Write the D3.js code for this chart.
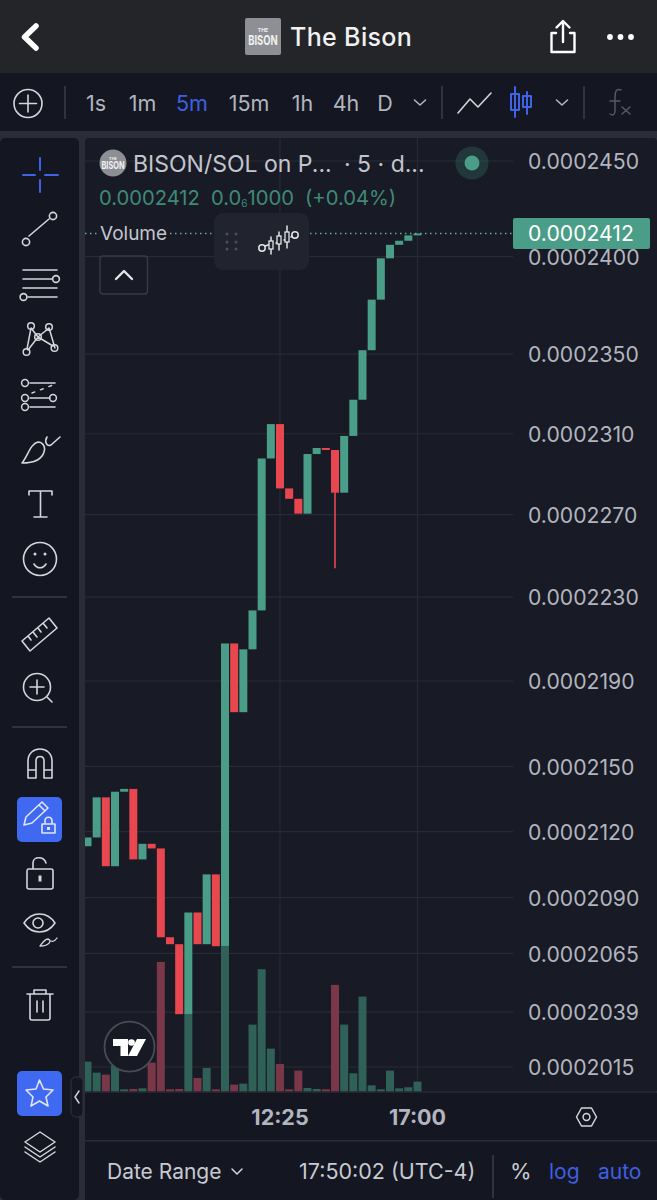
<!DOCTYPE html>
<html>
<head>
<meta charset="utf-8">
<script src="https://cdn.jsdelivr.net/npm/d3@7"></script>
<style>
  html, body { margin: 0; padding: 0; background: #181a25; }
  svg { display: block; }
  text { font-family: Inter, "Noto Sans", sans-serif; }
</style>
</head>
<body>
<div id="chart"></div>
<script>
// prices are in units of 1e-7 SOL
const opens = [2113.3, 2117.3, 2135.7, 2104.2, 2138.3, 2139.6, 2107.3, 2114.4, 2112.3, 2072.2, 2069.1, 2038.1, 2083.3,
    2069.1, 2100.5, 2068.2, 2207.8, 2175.3, 2205.0, 2223.6, 2297.7, 2314.8, 2282.9, 2277.8, 2270.5, 2299.9, 2302.9,
    2301.9, 2280.8, 2308.9, 2327.0, 2352.0, 2377.8, 2399.1, 2406.1, 2408.2, 2411.0];
const closes = [2117.3, 2135.7, 2104.2, 2138.3, 2139.6, 2107.3, 2114.4, 2112.3, 2072.2, 2069.1, 2038.1, 2083.3, 2069.1,
    2100.5, 2068.2, 2207.8, 2175.3, 2205.0, 2223.6, 2297.7, 2314.8, 2282.9, 2277.8, 2270.5, 2299.9, 2302.9, 2301.9,
    2280.8, 2308.9, 2327.0, 2352.0, 2377.8, 2399.1, 2406.1, 2408.2, 2411.0, 2412.0];
// only one candle has a visible wick
const wicks = [{ index: 27, low: 2243.9 }];
const volumes = [89, 56, 50, 78, 6, 7, 9, 86, 388, 6, 7, 232, 40, 70, 6, 436, 20, 23, 200, 366, 128, 82, 6, 62, 10, 7, 6,
    319, 200, 54, 284, 18, 6, 62, 9, 12, 29];
const priceTicks = [2450, 2400, 2350, 2310, 2270, 2230, 2190, 2150, 2120, 2090, 2065, 2039, 2015];
const timeTicks = [{ index: 21, label: "12:25" }, { index: 36, label: "17:00" }];
const lastPrice = 2412;
const intervals = ["1s", "1m", "5m", "15m", "1h", "4h", "D"];
const intervalX = [96, 142.5, 192, 249, 302.5, 346, 385];

const width = 657, height = 1200;
const GREEN = "#4a9e88", RED = "#e9474f", BLUE = "#3f5fe0", GRID = "#282a35", LABEL = "#b2b5be", ICON = "#d4d6dc";

const svg = d3.select("#chart").append("svg")
    .attr("width", width).attr("height", height).attr("viewBox", `0 0 ${width} ${height}`);

// panels
svg.append("rect").attr("width", width).attr("height", height).attr("fill", "#2a2c37");
svg.append("rect").attr("width", width).attr("height", 73).attr("fill", "#242528");
svg.append("rect").attr("y", 73).attr("width", width).attr("height", 58).attr("fill", "#141722");
svg.append("rect").attr("y", 138).attr("width", 79).attr("height", 1062).attr("rx", 5).attr("fill", "#141722");
svg.append("rect").attr("x", 85).attr("y", 138).attr("width", 572).attr("height", 955).attr("rx", 4).attr("fill", "#181a25");
svg.append("rect").attr("x", 85).attr("y", 1093).attr("width", 572).attr("height", 107).attr("fill", "#141722");
svg.append("rect").attr("x", 85).attr("y", 1140).attr("width", 572).attr("height", 1.5).attr("fill", "#2a2c37");

// scales
const x = d3.scaleLinear().domain([0, opens.length - 1]).range([87.5, 417.5]);
const y = d3.scaleLog().domain([2015, 2450]).range([1067, 161]);
const yVol = d3.scaleLinear().domain([0, d3.max(volumes)]).range([1091.3, 945.9]);
const bodyW = 8;

const plot = svg.append("g");
svg.append("clipPath").attr("id", "plotClip").append("rect")
    .attr("x", 85).attr("y", 138).attr("width", 428).attr("height", 955);

// grid
plot.selectAll(".hgrid").data(priceTicks).enter().append("line")
    .attr("class", "hgrid")
    .attr("x1", 85).attr("x2", 513)
    .attr("y1", d => y(d)).attr("y2", d => y(d))
    .attr("stroke", GRID).attr("stroke-width", 1.2);
plot.selectAll(".vgrid").data(timeTicks).enter().append("line")
    .attr("class", "vgrid")
    .attr("x1", d => x(d.index)).attr("x2", d => x(d.index))
    .attr("y1", 138).attr("y2", 1091)
    .attr("stroke", GRID).attr("stroke-width", 1.2);
plot.append("line").attr("x1", 85).attr("x2", 657).attr("y1", 1092).attr("y2", 1092)
    .attr("stroke", "#2d2f3a").attr("stroke-width", 1.2);

// candles then volume on top
const marks = plot.append("g").attr("clip-path", "url(#plotClip)");
const isUp = i => closes[i] >= opens[i];

marks.selectAll(".wick").data(wicks).enter().append("line")
    .attr("class", "wick")
    .attr("x1", d => x(d.index)).attr("x2", d => x(d.index))
    .attr("y1", d => y(opens[d.index])).attr("y2", d => y(d.low))
    .attr("stroke", RED).attr("stroke-width", 1.6);

marks.selectAll(".body").data(d3.range(opens.length)).enter().append("rect")
    .attr("class", "body")
    .attr("x", i => x(i) - bodyW / 2)
    .attr("y", i => y(Math.max(opens[i], closes[i])))
    .attr("width", bodyW)
    .attr("height", i => Math.abs(y(opens[i]) - y(closes[i])))
    .attr("fill", i => isUp(i) ? GREEN : RED);

marks.selectAll(".vol").data(volumes).enter().append("rect")
    .attr("class", "vol")
    .attr("x", (d, i) => x(i) - bodyW / 2)
    .attr("y", d => yVol(d))
    .attr("width", bodyW)
    .attr("height", d => yVol(0) - yVol(d))
    .attr("fill", (d, i) => isUp(i) ? "#31655b" : "#80394a")
    .attr("fill-opacity", 0.95);

// last price line + axis labels
plot.append("line").attr("x1", 85).attr("x2", 513)
    .attr("y1", y(lastPrice)).attr("y2", y(lastPrice))
    .attr("stroke", "#5fae98").attr("stroke-width", 1.4).attr("stroke-dasharray", "1.5 3.5");

const yAxis = d3.axisRight(y).tickValues(priceTicks).tickSize(0).tickPadding(0)
    .tickFormat(d => (d / 1e7).toFixed(7));
const axisG = svg.append("g").attr("transform", "translate(528,0)").call(yAxis);
axisG.select(".domain").remove();
axisG.selectAll("text").attr("fill", LABEL).attr("font-size", 21.2).attr("font-family", "Inter").attr("dy", "0.36em");

svg.append("rect").attr("x", 513).attr("y", 218).attr("width", 137).attr("height", 31).attr("rx", 2).attr("fill", GREEN);
svg.append("text").attr("x", 528).attr("y", y(lastPrice)).attr("dy", "0.36em")
    .attr("font-size", 21.2).attr("fill", "#fff").text((lastPrice / 1e7).toFixed(7));

// time axis
svg.selectAll(".tlabel").data(timeTicks).enter().append("text")
    .attr("class", "tlabel")
    .attr("x", d => x(d.index)).attr("y", 1125)
    .attr("text-anchor", "middle").attr("font-size", 21.5).attr("font-weight", 700)
    .attr("fill", LABEL).text(d => d.label);

// icon helper
function icon(d, color, sw, fill) {
    return svg.append("path").attr("d", d).attr("fill", fill || "none")
        .attr("stroke", color || ICON).attr("stroke-width", sw || 1.8)
        .attr("stroke-linecap", "round").attr("stroke-linejoin", "round");
}
function ring(cx, cy, r, color, sw) {
    return svg.append("circle").attr("cx", cx).attr("cy", cy).attr("r", r).attr("fill", "none")
        .attr("stroke", color || ICON).attr("stroke-width", sw || 1.8);
}
function label(tx, ty, str, size, color, anchor, weight) {
    return svg.append("text").attr("x", tx).attr("y", ty).attr("font-size", size).attr("fill", color)
        .attr("text-anchor", anchor || "start").attr("font-weight", weight || 400).text(str);
}
function logo(parent, lx, ly, w, h, rx) {
    parent.append("rect").attr("x", lx).attr("y", ly).attr("width", w).attr("height", h).attr("rx", rx).attr("fill", "#8e8f94");
    parent.append("text").attr("x", lx + w / 2).attr("y", ly + h * 0.38).attr("text-anchor", "middle")
        .attr("font-size", h * 0.14).attr("font-weight", 700).attr("fill", "#eee").text("THE");
    parent.append("text").attr("x", lx + w / 2).attr("y", ly + h * 0.72).attr("text-anchor", "middle")
        .attr("font-size", h * 0.36).attr("font-weight", 700).attr("textLength", w * 0.82).attr("lengthAdjust", "spacingAndGlyphs")
        .attr("fill", "#f2f2f2").text("BISON");
}

// header
icon("M36 26 L24.5 37 L36 48", "#fff", 5.5);
logo(svg, 245, 18, 36, 37, 2);
label(290, 46, "The Bison", 25, "#f1f1f1", "start", 500).attr("letter-spacing", 0.35);
icon("M556 33 H551.5 V52 H574.5 V33 H570 M563 42 V22 M556.5 27.5 L563 21 L569.5 27.5", "#fff", 2.4);
[610, 620.5, 631].forEach(cx => svg.append("circle").attr("cx", cx).attr("cy", 37).attr("r", 2.9).attr("fill", "#fff"));

// interval toolbar
ring(28, 103.5, 14, ICON, 1.6);
icon("M28 95 V112 M19.5 103.5 H36.5", ICON, 1.6);
[65, 442, 584].forEach(sx => svg.append("line").attr("x1", sx).attr("x2", sx).attr("y1", 86).attr("y2", 119)
    .attr("stroke", "#3a3c47").attr("stroke-width", 1.5));
svg.selectAll(".interval").data(intervals).enter().append("text")
    .attr("class", "interval")
    .attr("x", (d, i) => intervalX[i]).attr("y", 111)
    .attr("text-anchor", "middle").attr("font-size", 21.5)
    .attr("fill", d => d === "5m" ? BLUE : LABEL).text(d => d);
icon("M414.5 100 L420 105 L425.5 100", LABEL, 1.6);
icon("M458 113 L470 99 L478 107 L491 93", ICON, 1.6);
icon("M515 87 V117 M511 94 H519 V110 H511 Z M527 92 V114 M523 96 H531 V107 H523 Z", "#3f62e6", 2);
icon("M556.5 100 L562 105 L567.5 100", LABEL, 1.6);
icon("M621 90 C616 88 615 92 615 97 V110 C615 115 613 116 610 114 M610 101 H620", "#565964", 1.5);
icon("M622 107 L630 114 M630 107 L622 114", "#565964", 1.5);

// left toolbar
icon("M40 158 V170 M40 180 V192 M23 175 H35 M45 175 H58", "#3f62e6", 2);
icon("M29 236 L49 219", ICON, 1.6); ring(26, 242, 3.6, ICON, 1.6); ring(53, 216, 3.6, ICON, 1.6);
icon("M23 270 H57 M23 279 H52 M23 288 H57 M28 297 H57", ICON, 1.6); ring(56, 279, 3.4, ICON, 1.6); ring(23.5, 297, 3.4, ICON, 1.6);
icon("M31 328 L27 349 M31 328 L38 337 M38 337 L49 328 M49 328 L55 348 M38 337 L28 350 M38 337 L53 346", ICON, 1.5);
[[31, 326], [49, 327], [38, 337], [26.5, 352], [54.5, 348]].forEach(c => ring(c[0], c[1], 3.3, ICON, 1.5));
icon("M30 383 H55 M30 398 H50 M30 407 H55", ICON, 1.6);
icon("M32 393 L53 385", ICON, 1.4).attr("stroke-dasharray", "3 6");
ring(25, 383, 3.4, ICON, 1.5); ring(25, 398, 3.4, ICON, 1.5); ring(25, 407, 3.4, ICON, 1.5); ring(53, 398, 3.4, ICON, 1.5);
icon("M22 463 C28 456 30 444 38 442 C42 442 46 446 44 452 C42 459 34 463 22 463 Z", ICON, 1.6);
icon("M47 437 C44 442 47 447 51 445 L60 437", ICON, 1.6);
icon("M29 495 V491 H52 V495 M40.5 491 V517 M34 517 H47", ICON, 1.6);
ring(40, 559, 16.5, ICON, 1.6);
icon("M34 564 C37 569 43 569 46 564", ICON, 1.6);
svg.append("circle").attr("cx", 35).attr("cy", 554).attr("r", 1.5).attr("fill", ICON);
svg.append("circle").attr("cx", 45).attr("cy", 554).attr("r", 1.5).attr("fill", ICON);
[597, 727, 967].forEach(sy => svg.append("line").attr("x1", 12).attr("x2", 67).attr("y1", sy).attr("y2", sy)
    .attr("stroke", "#3a3c47").attr("stroke-width", 1.4));
icon("M22 641 L49 618 L57 628 L30 651 Z M28 636 L31 640 M33 632 L37 637 M38 628 L41 632 M43 623 L47 628", ICON, 1.6);
ring(37, 687, 13.5, ICON, 1.6);
icon("M37 680 V694 M30 687 H44 M47 697 L52 702", ICON, 1.6);
icon("M28 778 V761 C28 745 52 745 52 761 V778 H44 V761 C44 755 36 755 36 761 V778 Z M28 770 H36 M44 770 H52", ICON, 1.6);
svg.append("rect").attr("x", 17).attr("y", 797).attr("width", 45).attr("height", 45).attr("rx", 5).attr("fill", "#3f69f0");
icon("M24 825 L26 817 L42 802 L48 808 L32 823 Z M39 805 L45 811", "#dfe5f7", 1.6);
icon("M42 833 V824 H55 V833 Z M45 824 V821 C45 816 52 816 52 821 V824", "#dfe5f7", 1.6);
svg.append("rect").attr("x", 47).attr("y", 827).attr("width", 3).attr("height", 3).attr("fill", "#dfe5f7");
icon("M28 869 H51 C52 869 53 870 53 871 V887 C53 888 52 889 51 889 H29 C28 889 27 888 27 887 V871 C27 870 28 869 28 869 Z M33 869 V863 C33 856 44 856 46 863", ICON, 1.6);
svg.append("rect").attr("x", 38.5).attr("y", 875.5).attr("width", 3).attr("height", 6).attr("fill", ICON);
icon("M24 923 C32 911 47 911 55 923 C47 935 32 935 24 923 Z", ICON, 1.6);
ring(38, 923, 5, ICON, 1.6);
icon("M40 946 C43 942 45 939 48 939 C52 940 50 946 40 946 Z M51 941 C53 942 55 941 57 938", ICON, 1.3);
icon("M27 994 H53 M34 994 V990 H46 V994 M30 994 V1018 C30 1019 31 1020 32 1020 H48 C49 1020 50 1019 50 1018 V994 M37 1001 V1012 M43 1001 V1012", ICON, 1.6);
svg.append("rect").attr("x", 17).attr("y", 1071).attr("width", 45).attr("height", 45).attr("rx", 5).attr("fill", "#3f69f0");
icon("M39.5 1080 L43.5 1089 L53 1090 L46 1097 L48 1106 L39.5 1101 L31 1106 L33 1097 L26 1090 L36 1089 Z", "#dfe5f7", 1.6);
svg.append("rect").attr("x", 71).attr("y", 1077).attr("width", 12).attr("height", 40).attr("rx", 5)
    .attr("fill", "#141722").attr("stroke", "#2f313b");
icon("M79 1091 L75 1097 L79 1103", ICON, 1.4);
icon("M40 1132 L55 1142 L40 1152 L25 1142 Z M25 1147 L40 1157 L55 1147 M25 1152 L40 1162 L55 1152", ICON, 1.5);

// legend
svg.append("clipPath").attr("id", "logoClip").append("circle").attr("cx", 113).attr("cy", 163).attr("r", 13.5);
logo(svg.append("g").attr("clip-path", "url(#logoClip)"), 99, 149, 28, 28, 0);
label(133, 172, "BISON/SOL on P...", 23, "#c4c6cd");
label(344, 172, "· 5 · d...", 23, "#c4c6cd");
svg.append("circle").attr("cx", 472).attr("cy", 163).attr("r", 16.5).attr("fill", "#4a9e88").attr("fill-opacity", 0.22);
svg.append("circle").attr("cx", 472).attr("cy", 163).attr("r", 7.5).attr("fill", GREEN);

label(99, 205, "0.0002412", 20.2, "#3f8a77");
const change = label(211, 205, "0.0", 20.2, "#3f8a77");
change.append("tspan").attr("font-size", 10).attr("dy", 2).text("6");
change.append("tspan").attr("dy", -2).text("1000");
label(305, 205, "(+0.04%)", 20.2, "#3f8a77");

svg.append("rect").attr("x", 98).attr("y", 222).attr("width", 72).attr("height", 22).attr("fill", "#181a25");
label(100, 240, "Volume", 19, "#c4c6cd");
svg.append("rect").attr("x", 100).attr("y", 256).attr("width", 47.5).attr("height", 38).attr("rx", 3)
    .attr("fill", "none").attr("stroke", "#383a45").attr("stroke-width", 1.4);
icon("M116 279 L124 271 L132 279", "#e3e4e8", 2.4);

// floating drawing toolbar
svg.append("rect").attr("x", 214).attr("y", 213).attr("width", 95).attr("height", 57).attr("rx", 9).attr("fill", "#21242f");
[[227, 234], [236, 234], [227, 242], [236, 242], [227, 249], [236, 249]].forEach(c =>
    svg.append("circle").attr("cx", c[0]).attr("cy", c[1]).attr("r", 1.5).attr("fill", "#4c4f5a"));
ring(262, 248, 3.2, "#e3e4e8", 1.5); ring(295, 235, 3.2, "#e3e4e8", 1.5);
icon("M265 246 L271 244 M271 237 V254 M276 243 L280 240 M279 232 V250 M284 240 L288 239 M287 226 V248 M291 237 L292 236", "#e3e4e8", 1.5);
svg.append("rect").attr("x", 269).attr("y", 241).attr("width", 4).attr("height", 8).attr("fill", "#21242f").attr("stroke", "#e3e4e8").attr("stroke-width", 1.3);
svg.append("rect").attr("x", 277).attr("y", 236).attr("width", 4).attr("height", 8).attr("fill", "#21242f").attr("stroke", "#e3e4e8").attr("stroke-width", 1.3);
svg.append("rect").attr("x", 285).attr("y", 232).attr("width", 4).attr("height", 10).attr("fill", "#21242f").attr("stroke", "#e3e4e8").attr("stroke-width", 1.3);

// tradingview badge
svg.append("circle").attr("cx", 129.5).attr("cy", 1046.7).attr("r", 25).attr("fill", "#171a24")
    .attr("stroke", "#4a4c55").attr("stroke-width", 1.8);
svg.append("path").attr("fill", "#fff")
    .attr("d", "M113 1039 H128 V1056 H120.5 V1046 H113 Z M137 1039 H146 L137 1056 H128 Z");
svg.append("circle").attr("cx", 131.5).attr("cy", 1042.5).attr("r", 3.3).attr("fill", "#fff");

// bottom row
icon("M576.5 1117 L581.5 1108 H591.5 L596.5 1117 L591.5 1126 H581.5 Z", ICON, 1.5);
ring(586.5, 1117, 3.4, ICON, 1.5);
label(107, 1179, "Date Range", 21, "#c8cad0");
icon("M232 1169 L237 1174 L242 1169", ICON, 1.5);
label(299, 1179, "17:50:02 (UTC-4)", 21.5, "#c8cad0");
svg.append("line").attr("x1", 493).attr("x2", 493).attr("y1", 1155).attr("y2", 1198).attr("stroke", "#3a3c47").attr("stroke-width", 1.5);
label(510, 1179, "%", 22, "#c8cad0");
label(549, 1179, "log", 21, BLUE);
label(598, 1179, "auto", 21, BLUE);
</script>
</body>
</html>
